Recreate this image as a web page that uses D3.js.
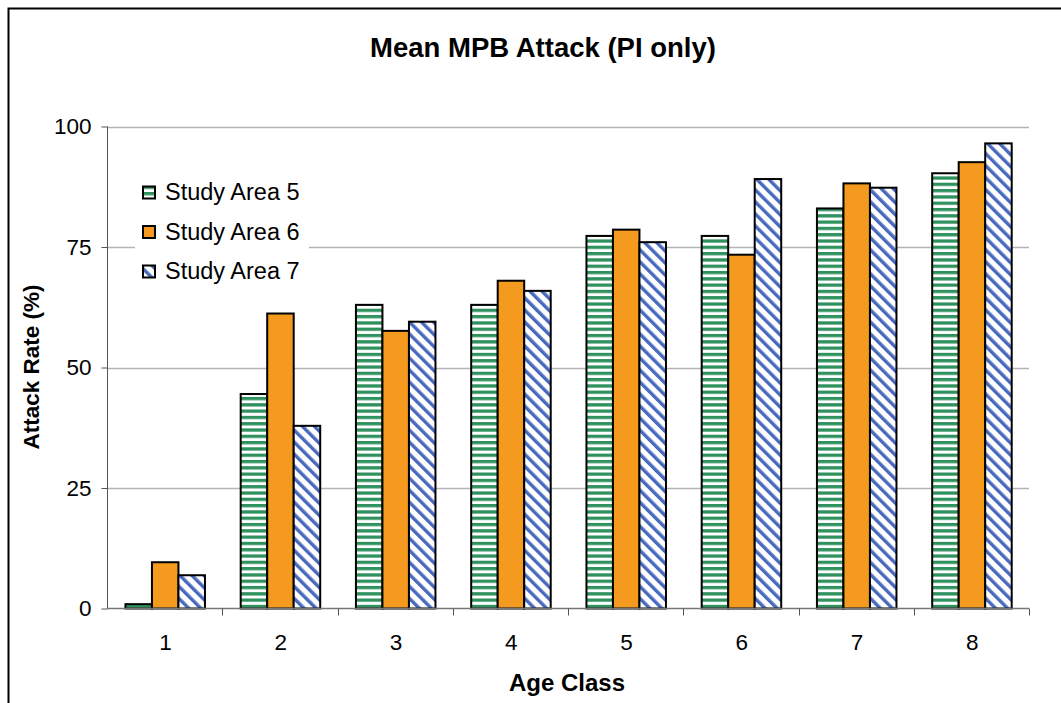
<!DOCTYPE html>
<html>
<head>
<meta charset="utf-8">
<script src="https://cdn.jsdelivr.net/npm/d3@7"></script>
<style>
  html, body { margin: 0; padding: 0; background: #fff; }
  svg { display: block; font-family: "Liberation Sans", Arial, sans-serif; }
</style>
</head>
<body>
<svg id="chart" width="1061" height="703"></svg>
<script>
// Mean mountain pine beetle attack rate by age class, three study areas
const ageClasses = ["1", "2", "3", "4", "5", "6", "7", "8"];
const seriesNames = ["Study Area 5", "Study Area 6", "Study Area 7"];
const area5 = [0.9, 44.5, 63.0, 63.0, 77.3, 77.3, 83.0, 90.3];
const area6 = [9.6, 61.2, 57.6, 68.0, 78.6, 73.4, 88.2, 92.6];
const area7 = [6.9, 37.9, 59.5, 65.9, 76.0, 89.1, 87.3, 96.5];
const yTicks = [0, 25, 50, 75, 100];

const seriesValues = [area5, area6, area7];
const fills = ["url(#stripeGreen)", "#F39A1F", "url(#diagBlue)"];

const svg = d3.select("#chart");

// Hatch patterns
const defs = svg.append("defs");
const pg = defs.append("pattern").attr("id", "stripeGreen")
  .attr("patternUnits", "userSpaceOnUse").attr("width", 8).attr("height", 6.3);
pg.append("rect").attr("width", 8).attr("height", 6.3).attr("fill", "#ffffff");
pg.append("rect").attr("y", 0).attr("width", 8).attr("height", 3.3).attr("fill", "#2F915E");

const pb = defs.append("pattern").attr("id", "diagBlue")
  .attr("patternUnits", "userSpaceOnUse").attr("width", 8.5).attr("height", 8.5)
  .attr("patternTransform", "rotate(-45)");
pb.append("rect").attr("width", 8.5).attr("height", 8.5).attr("fill", "#ffffff");
pb.append("rect").attr("x", 0).attr("width", 3.4).attr("height", 8.5).attr("fill", "#4869BE");

// Outer frame
svg.append("rect")
  .attr("x", 8.5).attr("y", 8.5).attr("width", 1100).attr("height", 760)
  .attr("fill", "none").attr("stroke", "#000").attr("stroke-width", 2);

const plot = { left: 107, right: 1029, top: 126.5, bottom: 608.5 };

const x = d3.scaleBand().domain(ageClasses).range([plot.left, plot.right]).padding(0);
const xs = d3.scaleBand().domain(seriesNames)
  .range([x.bandwidth() * 0.16, x.bandwidth() * 0.85]).padding(0);
const y = d3.scaleLinear().domain([0, 100]).range([plot.bottom, plot.top]);

// Gridlines
svg.append("g").selectAll("line").data(yTicks.filter(d => d > 0)).join("line")
  .attr("x1", plot.left).attr("x2", plot.right)
  .attr("y1", d => Math.round(y(d)) + 0.5).attr("y2", d => Math.round(y(d)) + 0.5)
  .attr("stroke", "#b4b4b4").attr("stroke-width", 1.3);

// Bars
const groups = svg.append("g").selectAll("g").data(ageClasses).join("g")
  .attr("transform", d => `translate(${x(d)},0)`);
groups.selectAll("rect")
  .data((d, i) => seriesNames.map((s, j) => ({ s, j, v: seriesValues[j][i] })))
  .join("rect")
  .attr("x", d => xs(d.s))
  .attr("width", xs.bandwidth())
  .attr("y", d => y(d.v))
  .attr("height", d => y(0) - y(d.v))
  .attr("fill", d => fills[d.j])
  .attr("stroke", "#000").attr("stroke-width", 2);

// Y axis
const yAxis = d3.axisLeft(y).tickValues(yTicks).tickSize(6).tickPadding(10);
const gy = svg.append("g").attr("transform", `translate(${plot.left + 0.5},0)`).call(yAxis);
gy.select(".domain").attr("stroke", "#555").attr("d", `M0,${plot.top}V${plot.bottom}`);
gy.selectAll(".tick line").attr("stroke", "#555");
gy.selectAll(".tick text").attr("font-size", 22.5).attr("fill", "#000")
  .attr("font-family", "Liberation Sans, Arial, sans-serif");

// X axis baseline with boundary ticks
const gx = svg.append("g").attr("transform", `translate(0,${plot.bottom})`);
gx.append("line").attr("x1", plot.left).attr("x2", plot.right)
  .attr("stroke", "#777").attr("stroke-width", 1.3);
const bounds = ageClasses.map(d => x(d)).concat([plot.right]);
gx.selectAll("line.tk").data(bounds.slice(1)).join("line").attr("class", "tk")
  .attr("x1", d => Math.round(d) + 0.5).attr("x2", d => Math.round(d) + 0.5)
  .attr("y1", 0).attr("y2", 7).attr("stroke", "#555");
gx.selectAll("text").data(ageClasses).join("text")
  .attr("x", d => x(d) + x.bandwidth() / 2 + 1)
  .attr("y", 41)
  .attr("text-anchor", "middle").attr("font-size", 22.5).text(d => d);

// Titles
svg.append("text").attr("x", 543).attr("y", 57).attr("text-anchor", "middle")
  .attr("font-size", 27.5).attr("font-weight", "bold").text("Mean MPB Attack (PI only)");
svg.append("text").attr("x", 567).attr("y", 691).attr("text-anchor", "middle")
  .attr("font-size", 24).attr("font-weight", "bold").text("Age Class");
svg.append("text").attr("transform", "translate(39,367) rotate(-90)")
  .attr("text-anchor", "middle").attr("font-size", 22.5).attr("font-weight", "bold")
  .text("Attack Rate (%)");

// Legend
const legend = svg.append("g");
legend.append("rect").attr("x", 135).attr("y", 170).attr("width", 174).attr("height", 118)
  .attr("fill", "#fff");
const items = legend.selectAll("g").data(seriesNames).join("g")
  .attr("transform", (d, i) => `translate(143,${192 + i * 39.5})`);
items.append("rect").attr("x", 0).attr("y", -5.5).attr("width", 12).attr("height", 12)
  .attr("fill", (d, i) => fills[i]).attr("stroke", "#000").attr("stroke-width", 2);
items.append("text").attr("x", 22).attr("y", 8).attr("font-size", 23.5).text(d => d);
</script>
</body>
</html>
